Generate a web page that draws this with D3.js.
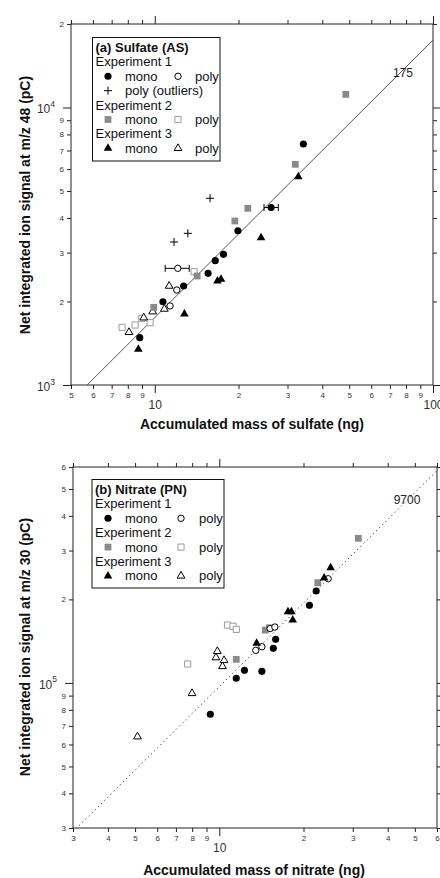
<!DOCTYPE html>
<html>
<head>
<meta charset="utf-8">
<script src="https://cdn.jsdelivr.net/npm/d3@7"></script>
<style>
  body { margin: 0; background: #fff; }
  svg { display: block; font-family: "Liberation Sans", Arial, sans-serif; }
</style>
</head>
<body>
<svg id="chart" width="440" height="878"></svg>
<script>
// ---- data: [mass (ng), signal (pC)] ----
const sulfExp1Mono = [[8.83, 1481], [10.7, 1996], [12.7, 2274], [15.55, 2526], [16.5, 2806], [17.66, 2958], [19.9, 3597], [26.2, 4362], [34.2, 7388]];
const sulfExp1Poly = [[11.35, 1927], [12.0, 2199], [12.1, 2633]];
const sulfOutliers = [[11.73, 3276], [13.15, 3521], [15.8, 4709]];
const sulfExp2Mono = [[9.92, 1905], [14.2, 2471], [19.4, 3900], [21.6, 4331], [32.0, 6242], [48.6, 11155]];
const sulfExp2Poly = [[7.63, 1614], [8.5, 1645], [8.98, 1739], [9.62, 1677], [13.85, 2560]];
const sulfExp3Mono = [[8.73, 1345], [12.78, 1803], [16.8, 2371], [17.3, 2404], [24.1, 3395], [32.8, 5632]];
const sulfExp3Poly = [[8.08, 1549], [9.13, 1748], [9.83, 1838], [10.83, 1879], [11.26, 2274]];
// [x, y, xLow, xHigh]
const sulfErrBars = [[26.2, 4362, 24.7, 27.8], [12.1, 2633, 10.9, 13.3]];
const sulfSlope = 175;

const nitExp1Mono = [[9.29, 77100], [11.5, 103900], [12.3, 111000], [14.2, 110100], [15.6, 133200], [15.9, 143600], [21.0, 190400], [22.2, 214400]];
const nitExp1Poly = [[13.5, 131000], [14.2, 135000], [15.2, 157000], [15.8, 159000], [24.5, 237400]];
const nitExp2Mono = [[11.5, 121600], [14.6, 155000], [15.1, 158000], [22.5, 229700], [31.4, 332000]];
const nitExp2Poly = [[7.71, 117000], [10.7, 161700], [11.2, 160000], [11.5, 156000]];
const nitExp3Mono = [[13.6, 139000], [17.6, 180600], [18.1, 180600], [18.3, 168500], [23.7, 239000], [25.0, 260000]];
const nitExp3Poly = [[5.10, 64000], [7.99, 91700], [9.73, 123400], [9.84, 130000], [10.27, 114700], [10.4, 120600]];
const nitSlope = 9700;

// ---- ticks ----
const sulfXTicks = [5, 6, 7, 8, 9, 10, 20, 30, 40, 50, 60, 70, 80, 90, 100];
const sulfYTicks = [1000, 2000, 3000, 4000, 5000, 6000, 7000, 8000, 9000, 10000, 20000];
const nitXTicks = [3, 4, 5, 6, 7, 8, 9, 10, 20, 30, 40, 50, 60];
const nitYTicks = [30000, 40000, 50000, 60000, 70000, 80000, 90000, 100000, 200000, 300000, 400000, 500000, 600000];

const svg = d3.select('#chart');

const shapes = {
  circle: d3.symbol().type(d3.symbolCircle).size(40)(),
  circleSm: d3.symbol().type(d3.symbolCircle).size(32)(),
  square: d3.symbol().type(d3.symbolSquare).size(46)(),
  squareSm: d3.symbol().type(d3.symbolSquare).size(38)(),
  triangle: d3.symbol().type(d3.symbolTriangle).size(32)(),
  triangleSm: d3.symbol().type(d3.symbolTriangle).size(26)(),
  plus: 'M-4,0H4M0,-4V4'
};

const styles = {
  mono1: { d: shapes.circle, fill: '#000', stroke: 'none' },
  poly1: { d: shapes.circleSm, fill: '#fff', stroke: '#000' },
  outlier: { d: shapes.plus, fill: 'none', stroke: '#000' },
  mono2: { d: shapes.square, fill: '#8a8a8a', stroke: 'none' },
  poly2: { d: shapes.squareSm, fill: '#fff', stroke: '#9a9a9a' },
  mono3: { d: shapes.triangle, fill: '#000', stroke: 'none' },
  poly3: { d: shapes.triangleSm, fill: '#fff', stroke: '#000' }
};

function putMarker(sel, style) {
  return sel.append('path')
    .attr('d', styles[style].d)
    .attr('fill', styles[style].fill)
    .attr('stroke', styles[style].stroke)
    .attr('stroke-width', 1);
}

const isDecade = v => Math.abs(Math.log10(v) - Math.round(Math.log10(v))) < 1e-6;
const lead = v => Math.round(v / Math.pow(10, Math.floor(Math.log10(v) + 1e-9)));

function drawAxis(gen, transform, ticks, orient, labelled, isX) {
  const g = svg.append('g').attr('transform', transform);
  gen.tickValues(ticks).tickSize(4).tickSizeOuter(0).tickPadding(3)
    .tickFormat(labelled ? d => String(lead(d)) : () => '');
  g.call(gen);
  g.select('.domain').remove();
  g.attr('font-family', null).attr('font-size', null);
  g.selectAll('.tick line').attr('stroke', '#222');
  const attr = (orient === 'left' || orient === 'right') ? 'x2' : 'y2';
  g.selectAll('.tick').filter(isDecade).select('line')
    .attr(attr, function () { return +d3.select(this).attr(attr) * 2; });
  if (!labelled) return;
  g.selectAll('.tick text').attr('fill', '#333').each(function (d) {
    const t = d3.select(this);
    if (!isDecade(d)) {
      t.attr('font-size', 8);
      return;
    }
    const e = Math.round(Math.log10(d));
    if (isX) {
      t.text(String(d)).attr('font-size', 12).attr('y', 15);
    } else {
      t.text('10').attr('font-size', 12).attr('x', -16).attr('dy', '0.45em');
      t.append('tspan').text(e).attr('font-size', 8.5).attr('dy', '-0.75em');
    }
  });
}

function drawPanel(p) {
  const x = d3.scaleLog().domain(p.xDomain).range([p.left, p.right]);
  const y = d3.scaleLog().domain(p.yDomain).range([p.bottom, p.top]);

  const clipId = 'clip-' + p.id;
  svg.append('clipPath').attr('id', clipId).append('rect')
    .attr('x', p.left).attr('y', p.top)
    .attr('width', p.right - p.left).attr('height', p.bottom - p.top);

  // axes (ticks outside on all four sides)
  drawAxis(d3.axisBottom(x), `translate(0,${p.bottom})`, p.xTicks, 'bottom', true, true);
  drawAxis(d3.axisTop(x), `translate(0,${p.top})`, p.xTicks, 'top', false, true);
  drawAxis(d3.axisLeft(y), `translate(${p.left},0)`, p.yTicks, 'left', true, false);
  drawAxis(d3.axisRight(y), `translate(${p.right},0)`, p.yTicks, 'right', false, false);

  svg.append('rect')
    .attr('x', p.left).attr('y', p.top)
    .attr('width', p.right - p.left).attr('height', p.bottom - p.top)
    .attr('fill', 'none').attr('stroke', '#222').attr('stroke-width', 1);

  // fit line
  svg.append('path').datum(p.xDomain)
    .attr('clip-path', `url(#${clipId})`)
    .attr('d', d3.line().x(d => x(d)).y(d => y(d * p.slope)))
    .attr('fill', 'none')
    .attr('stroke', p.fitColor)
    .attr('stroke-width', 1)
    .attr('stroke-dasharray', p.fitDash);

  svg.append('text')
    .attr('x', p.fitLabelPos[0]).attr('y', p.fitLabelPos[1])
    .attr('font-size', 12).attr('fill', '#222')
    .attr('text-anchor', 'middle')
    .text(String(p.slope));

  // error bars
  const eb = svg.append('g').attr('stroke', '#000').attr('stroke-width', 1);
  (p.errBars || []).forEach(([cx, cy, lo, hi]) => {
    eb.append('line').attr('x1', x(lo)).attr('x2', x(hi)).attr('y1', y(cy)).attr('y2', y(cy));
    [lo, hi].forEach(v => {
      eb.append('line').attr('x1', x(v)).attr('x2', x(v)).attr('y1', y(cy) - 3.5).attr('y2', y(cy) + 3.5);
    });
  });

  // points
  p.series.forEach(s => {
    s.data.forEach(([vx, vy]) => {
      putMarker(svg, s.style).attr('transform', `translate(${x(vx)},${y(vy)})`);
    });
  });

  // axis titles
  svg.append('text')
    .attr('transform', `translate(${p.yTitlePos[0]},${p.yTitlePos[1]}) rotate(-90)`)
    .attr('text-anchor', 'middle')
    .attr('font-size', 14).attr('font-weight', 'bold').attr('fill', '#111')
    .text(p.yTitle);
  svg.append('text')
    .attr('x', p.xTitlePos[0]).attr('y', p.xTitlePos[1])
    .attr('text-anchor', 'middle')
    .attr('font-size', 14).attr('font-weight', 'bold').attr('fill', '#111')
    .text(p.xTitle);

  // legend
  const L = p.legend;
  svg.append('rect')
    .attr('x', L.x).attr('y', L.y).attr('width', L.w).attr('height', L.h)
    .attr('fill', '#fff').attr('stroke', '#111').attr('stroke-width', 1);
  let by = L.firstBaseline;
  L.rows.forEach(r => {
    if (r.title) {
      svg.append('text').attr('x', L.x + 3).attr('y', by)
        .attr('font-size', 13).attr('font-weight', 'bold').attr('fill', '#111').text(r.title);
    } else if (r.header) {
      svg.append('text').attr('x', L.x + 3).attr('y', by)
        .attr('font-size', 13).attr('fill', '#111').text(r.header);
    } else {
      r.items.forEach((it, i) => {
        const mx = L.cols[i * 2], tx = L.cols[i * 2 + 1];
        putMarker(svg, it.style).attr('transform', `translate(${mx},${by - 4.5})`);
        svg.append('text').attr('x', tx).attr('y', by)
          .attr('font-size', 13).attr('fill', '#111').text(it.label);
      });
    }
    by += L.step;
  });
}

drawPanel({
  id: 'sulf',
  left: 71, right: 433, top: 24, bottom: 385,
  xDomain: [5, 100], yDomain: [1000, 20000],
  xTicks: sulfXTicks, yTicks: sulfYTicks,
  slope: sulfSlope, fitColor: '#555', fitDash: null, fitLabelPos: [403, 77],
  errBars: sulfErrBars,
  series: [
    { data: sulfExp2Poly, style: 'poly2' },
    { data: sulfExp3Poly, style: 'poly3' },
    { data: sulfExp1Poly, style: 'poly1' },
    { data: sulfOutliers, style: 'outlier' },
    { data: sulfExp2Mono, style: 'mono2' },
    { data: sulfExp3Mono, style: 'mono3' },
    { data: sulfExp1Mono, style: 'mono1' }
  ],
  yTitle: 'Net integrated ion signal at m/z 48 (pC)', yTitlePos: [30, 205],
  xTitle: 'Accumulated mass of sulfate (ng)', xTitlePos: [252, 429],
  legend: {
    x: 92.5, y: 37.5, w: 127.5, h: 123.5, firstBaseline: 52, step: 14.4,
    cols: [108, 125, 178, 195],
    rows: [
      { title: '(a) Sulfate (AS)' },
      { header: 'Experiment 1' },
      { items: [{ style: 'mono1', label: 'mono' }, { style: 'poly1', label: 'poly' }] },
      { items: [{ style: 'outlier', label: 'poly (outliers)' }] },
      { header: 'Experiment 2' },
      { items: [{ style: 'mono2', label: 'mono' }, { style: 'poly2', label: 'poly' }] },
      { header: 'Experiment 3' },
      { items: [{ style: 'mono3', label: 'mono' }, { style: 'poly3', label: 'poly' }] }
    ]
  }
});

drawPanel({
  id: 'nit',
  left: 73, right: 437, top: 467, bottom: 828,
  xDomain: [3, 60], yDomain: [30000, 600000],
  xTicks: nitXTicks, yTicks: nitYTicks,
  slope: nitSlope, fitColor: '#333', fitDash: '1.2,3.2', fitLabelPos: [407, 504],
  errBars: [],
  series: [
    { data: nitExp2Poly, style: 'poly2' },
    { data: nitExp3Poly, style: 'poly3' },
    { data: nitExp2Mono, style: 'mono2' },
    { data: nitExp1Poly, style: 'poly1' },
    { data: nitExp3Mono, style: 'mono3' },
    { data: nitExp1Mono, style: 'mono1' }
  ],
  yTitle: 'Net integrated ion signal at m/z 30 (pC)', yTitlePos: [30, 647],
  xTitle: 'Accumulated mass of nitrate (ng)', xTitlePos: [254, 875],
  legend: {
    x: 92, y: 479.5, w: 132, h: 108.5, firstBaseline: 494, step: 14.4,
    cols: [108, 125, 181, 199],
    rows: [
      { title: '(b) Nitrate (PN)' },
      { header: 'Experiment 1' },
      { items: [{ style: 'mono1', label: 'mono' }, { style: 'poly1', label: 'poly' }] },
      { header: 'Experiment 2' },
      { items: [{ style: 'mono2', label: 'mono' }, { style: 'poly2', label: 'poly' }] },
      { header: 'Experiment 3' },
      { items: [{ style: 'mono3', label: 'mono' }, { style: 'poly3', label: 'poly' }] }
    ]
  }
});
</script>
</body>
</html>
